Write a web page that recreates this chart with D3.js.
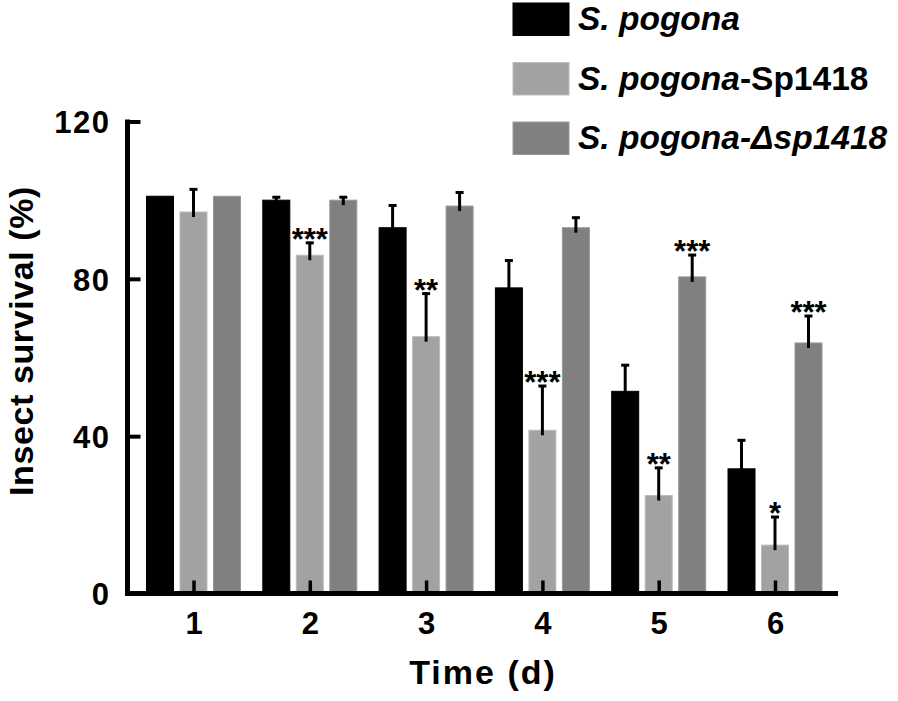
<!DOCTYPE html>
<html>
<head>
<meta charset="utf-8">
<script src="https://cdn.jsdelivr.net/npm/d3@7"></script>
<style>
  html, body { margin: 0; padding: 0; background: #fff; }
  svg { display: block; }
  text { font-family: "Liberation Sans", Arial, sans-serif; font-weight: bold; fill: #000; }
</style>
</head>
<body>
<svg id="chart" width="898" height="701"></svg>
<script>
// ---- data ----
const days = ["1", "2", "3", "4", "5", "6"];
const seriesNames = ["S. pogona", "S. pogona-Sp1418", "S. pogona-Δsp1418"];
const spValues      = [101, 100, 93, 77.7, 51.4, 31.7];
const spErrors      = [0, 1, 5.9, 7.2, 6.9, 7.5];
const sp1418Values  = [97, 86, 65.3, 41.5, 24.9, 12.3];
const sp1418Errors  = [6, 3.4, 11.2, 11.5, 7.3, 7.4];
const dspValues     = [101, 100, 98.5, 93, 80.5, 63.7];
const dspErrors     = [0, 1, 3.7, 2.8, 5.8, 7.1];
const spStars       = ["", "", "", "", "", ""];
const sp1418Stars   = ["", "***", "**", "***", "**", "*"];
const dspStars      = ["", "", "", "", "***", "***"];
const yTicks = [0, 40, 80, 120];
const colors = ["#000000", "#a2a2a2", "#808080"];
const strokes = ["#000000", "#bcbcbc", "#999999"];

const seriesVals = [spValues, sp1418Values, dspValues];
const seriesErrs = [spErrors, sp1418Errors, dspErrors];
const seriesStars = [spStars, sp1418Stars, dspStars];

const rows = [];
days.forEach((d, i) => {
  seriesNames.forEach((s, j) => {
    rows.push({ day: d, series: s, si: j, value: seriesVals[j][i], err: seriesErrs[j][i], star: seriesStars[j][i] });
  });
});

const svg = d3.select("#chart");

const y = d3.scaleLinear().domain([0, 120]).range([593.5, 121.5]);
const x = d3.scalePoint().domain(days).range([193.5, 775]);
const xs = d3.scaleBand().domain(seriesNames).range([-47.5, 47.5]).paddingInner(0.164).paddingOuter(0);

// bars
svg.append("g").selectAll("rect").data(rows).join("rect")
  .attr("x", d => x(d.day) + xs(d.series) + 0.5)
  .attr("y", d => y(d.value))
  .attr("width", xs.bandwidth() - 1)
  .attr("height", d => y(0) - y(d.value))
  .attr("fill", d => colors[d.si])
  .attr("stroke", d => strokes[d.si])
  .attr("stroke-width", 1);

// error bars (upper only)
const eb = svg.append("g").attr("stroke", "#000").attr("stroke-width", 3).attr("fill", "none");
rows.filter(d => d.err > 0).forEach(d => {
  const cx = x(d.day) + xs(d.series) + xs.bandwidth() / 2;
  const yTop = y(d.value + d.err);
  eb.append("line").attr("x1", cx).attr("x2", cx).attr("y1", y(d.value) + 5).attr("y2", yTop);
  eb.append("line").attr("x1", cx - 4).attr("x2", cx + 4).attr("y1", yTop + 1).attr("y2", yTop + 1);
});

// significance stars
svg.append("g").selectAll("text").data(rows.filter(d => d.star)).join("text")
  .attr("x", d => x(d.day) + xs(d.series) + xs.bandwidth() / 2)
  .attr("y", d => y(d.value + d.err) + 8)
  .attr("text-anchor", "middle")
  .style("font-size", "31px")
  .text(d => d.star);

// y axis
const yAxis = svg.append("g").attr("transform", "translate(127.5,0)")
  .call(d3.axisLeft(y).tickValues(yTicks).tickSizeInner(-13).tickSizeOuter(0).tickPadding(17));
yAxis.select(".domain").remove();
yAxis.selectAll(".tick line").attr("stroke", "#000").attr("stroke-width", 4);
yAxis.selectAll(".tick text").style("font-size", "31px").style("letter-spacing", "1.5px").attr("dy", "0.36em");
svg.append("line").attr("x1", 127.5).attr("x2", 127.5).attr("y1", y(120) - 2).attr("y2", y(0) + 2.5)
  .attr("stroke", "#000").attr("stroke-width", 5);

// x axis
const xAxis = svg.append("g").attr("transform", `translate(0,${y(0)})`)
  .call(d3.axisBottom(x).tickSizeInner(-13).tickSizeOuter(0).tickPadding(18));
xAxis.select(".domain").remove();
xAxis.selectAll(".tick line").attr("stroke", "#000").attr("stroke-width", 3.5);
xAxis.selectAll(".tick text").style("font-size", "31px");
svg.append("line").attr("x1", 125).attr("x2", 838).attr("y1", y(0)).attr("y2", y(0))
  .attr("stroke", "#000").attr("stroke-width", 5);

// axis titles
svg.append("text").attr("x", 483).attr("y", 684).attr("text-anchor", "middle")
  .style("font-size", "34px").style("letter-spacing", "2px").text("Time (d)");
svg.append("text").attr("transform", "translate(33,341) rotate(-90)").attr("text-anchor", "middle")
  .style("font-size", "34px").style("letter-spacing", "0.6px").text("Insect survival (%)");

// legend
const legend = svg.append("g");
const legendY = [3, 62.5, 122];
seriesNames.forEach((s, j) => {
  legend.append("rect").attr("x", 513).attr("y", legendY[j]).attr("width", 56).attr("height", 32.5)
    .attr("fill", colors[j]).attr("stroke", strokes[j]).attr("stroke-width", 1);
});
const lt = legend.selectAll("text").data(seriesNames).join("text")
  .attr("x", 578).attr("y", (d, j) => legendY[j] + 27)
  .style("font-size", "33.5px").style("font-style", "italic");
lt.each(function(d, j) {
  const t = d3.select(this);
  if (j === 1) { t.append("tspan").text("S. pogona"); t.append("tspan").style("font-style", "normal").text("-Sp1418"); }
  else { t.text(d); }
});
</script>
</body>
</html>
